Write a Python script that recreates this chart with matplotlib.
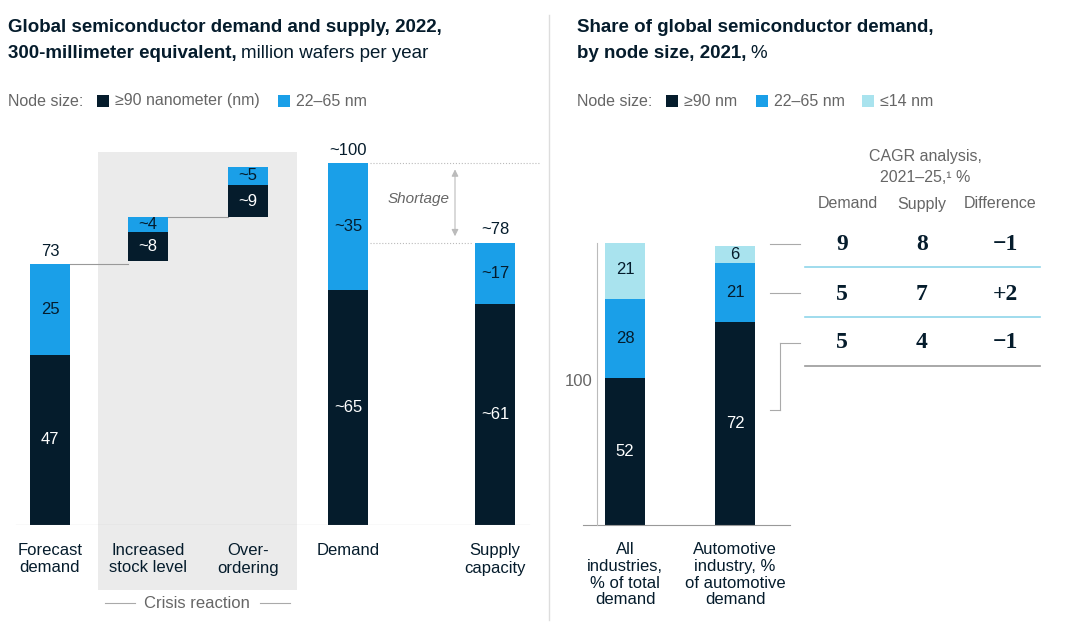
import matplotlib.pyplot as plt
from matplotlib.patches import Rectangle

plt.rcParams['font.family'] = ['Liberation Sans', 'DejaVu Sans']

NAVY = '#051c2c'
BLUE = '#1a9fe8'
CYAN = '#a9e3ee'
GRAY = '#666666'

# ---- data ----
wf_cats = ['Forecast\ndemand', 'Increased\nstock level', 'Over-\nordering', 'Demand', 'Supply\ncapacity']
wf_base = [0, 73, 85, 0, 0]
wf_dark = [47, 8, 9, 65, 61]
wf_blue = [25, 4, 5, 35, 17]
wf_dark_lbl = ['47', '~8', '~9', '~65', '~61']
wf_blue_lbl = ['25', '~4', '~5', '~35', '~17']
wf_top_lbl = ['73', '', '', '~100', '~78']

sh_cats = ['All\nindustries,\n% of total\ndemand', 'Automotive\nindustry, %\nof automotive\ndemand']
sh_ge90 = [52, 72]
sh_22_65 = [28, 21]
sh_le14 = [21, 6]

cagr_demand = ['9', '5', '5']
cagr_supply = ['8', '7', '4']
cagr_diff = ['\u22121', '+2', '\u22121']

W, H = 1080, 632
fig = plt.figure(figsize=(10.8, 6.32), dpi=100)

def fr(x0, y0, x1, y1):
    return [x0 / W, 1 - y1 / H, (x1 - x0) / W, (y1 - y0) / H]

# overlay axes in pixel coords for text/decoration
ov = fig.add_axes([0, 0, 1, 1], zorder=3)
ov.set_xlim(0, W); ov.set_ylim(H, 0); ov.axis('off')
ov.patch.set_alpha(0)

bg = fig.add_axes([0, 0, 1, 1], zorder=0)
bg.set_xlim(0, W); bg.set_ylim(H, 0); bg.axis('off')
bg.add_patch(Rectangle((98, 152), 199, 438, color='#ebebeb', lw=0))

# ---- left waterfall ----
axL = fig.add_axes(fr(0, 140, 540, 525), zorder=1)
axL.patch.set_alpha(0)
xs = [50, 148, 248, 348, 495]
axL.set_xlim(0, 540); axL.set_ylim(0, (525 - 140) / 3.62)
axL.axis('off')
axL.bar(xs, wf_dark, 40, bottom=wf_base, color=NAVY)
tops = [b + d for b, d in zip(wf_base, wf_dark)]
axL.bar(xs, wf_blue, 40, bottom=tops, color=BLUE)
axL.axhline(0, xmin=0.03, xmax=0.98, color='#999999', lw=0.8)
for x, b, d, u, dl, ul, tl in zip(xs, wf_base, wf_dark, wf_blue, wf_dark_lbl, wf_blue_lbl, wf_top_lbl):
    axL.text(x, b + d / 2, dl, color='white', ha='center', va='center', fontsize=12)
    axL.text(x, b + d + u / 2, ul, color=NAVY, ha='center', va='center', fontsize=12)
    if tl:
        axL.text(x, b + d + u + 1.5, tl, color=NAVY, ha='center', va='bottom', fontsize=12)
    axL.text(x, -5, wf_cats[xs.index(x)], ha='center', va='top', fontsize=12, color=NAVY, clip_on=False)
# connectors
t0 = wf_dark[0] + wf_blue[0]
axL.plot([70, 128], [t0, t0], color='#999999', lw=0.8)
t1 = wf_base[1] + wf_dark[1] + wf_blue[1]
axL.plot([168, 228], [t1, t1], color='#999999', lw=0.8)
dem = wf_dark[3] + wf_blue[3]
sup = wf_dark[4] + wf_blue[4]
axL.plot([370, 540], [dem, dem], color='#bbbbbb', lw=0.8, ls=':')
axL.plot([370, 472], [sup, sup], color='#bbbbbb', lw=0.8, ls=':')
axL.annotate('', xy=(455, dem - 1), xytext=(455, sup + 1),
             arrowprops=dict(arrowstyle='<|-|>', color='#bbbbbb', lw=0.8))
axL.text(450, (dem + sup) / 2 + 1, 'Shortage', ha='right', va='center', fontsize=11,
         style='italic', color=GRAY)

ov.text(197, 603, 'Crisis reaction', ha='center', va='center', fontsize=12, color=GRAY)
ov.plot([105, 135], [603, 603], color='#aaaaaa', lw=0.8)
ov.plot([260, 290], [603, 603], color='#aaaaaa', lw=0.8)

# ---- right share chart ----
axR = fig.add_axes(fr(540, 243, 800, 525), zorder=1)
axR.patch.set_alpha(0)
rx = [625, 735]
axR.set_xlim(540, 800); axR.set_ylim(0, 100); axR.axis('off')
axR.bar(rx, sh_ge90, 40, color=NAVY)
axR.bar(rx, sh_22_65, 40, bottom=sh_ge90, color=BLUE)
b2 = [a + b for a, b in zip(sh_ge90, sh_22_65)]
axR.bar(rx, sh_le14, 40, bottom=b2, color=CYAN)
axR.plot([583, 790], [0, 0], color='#999999', lw=0.8, clip_on=False)
for i, x in enumerate(rx):
    axR.text(x, sh_ge90[i] / 2, str(sh_ge90[i]), color='white', ha='center', va='center', fontsize=12)
    axR.text(x, sh_ge90[i] + sh_22_65[i] / 2, str(sh_22_65[i]), color=NAVY, ha='center', va='center', fontsize=12)
    axR.text(x, b2[i] + sh_le14[i] / 2, str(sh_le14[i]), color=NAVY, ha='center', va='center', fontsize=12)
    axR.text(x, -6, sh_cats[i], ha='center', va='top', fontsize=12, color=NAVY, clip_on=False, linespacing=1.15)
axR.plot([597, 597], [0, 100], color='#bbbbbb', lw=0.8, clip_on=False)
ov.text(592, 381, '100', ha='right', va='center', fontsize=12, color=GRAY)

# bracket lines to table
lc = '#aaaaaa'
ov.plot([770, 800], [244, 244], color=lc, lw=0.8)
ov.plot([770, 800], [293, 293], color=lc, lw=0.8)
ov.plot([780, 800], [343, 343], color=lc, lw=0.8)
ov.plot([780, 780], [343, 410], color=lc, lw=0.8)
ov.plot([770, 780], [410, 410], color=lc, lw=0.8)

# CAGR table
ov.text(925, 157, 'CAGR analysis,', ha='center', va='center', fontsize=11.5, color=GRAY)
ov.text(925, 178, '2021\u201325,\u00b9 %', ha='center', va='center', fontsize=11.5, color=GRAY)
for x, h in zip([848, 922, 1000], ['Demand', 'Supply', 'Difference']):
    ov.text(x, 204, h, ha='center', va='center', fontsize=11.5, color=GRAY)
for r, y in enumerate([244, 294, 343]):
    for x, v in zip([842, 922, 1005], [cagr_demand[r], cagr_supply[r], cagr_diff[r]]):
        ov.text(x, y, v, ha='center', va='center', fontsize=17, fontweight='bold',
                family=['Liberation Serif', 'DejaVu Serif'], color=NAVY)
ov.plot([805, 1040], [267, 267], color='#8fd6ea', lw=1.2)
ov.plot([805, 1040], [317, 317], color='#8fd6ea', lw=1.2)
ov.plot([805, 1040], [366, 366], color='#999999', lw=1.2)

# divider
ov.plot([549, 549], [15, 620], color='#dddddd', lw=1)

# titles
fig.canvas.draw()
r = fig.canvas.get_renderer()

def mixed(x, y, bold, reg):
    t = ov.text(x, y, bold, fontsize=13.5, fontweight='bold', color=NAVY, va='center')
    if reg:
        bb = t.get_window_extent(renderer=r)
        ov.text(bb.x1 / W * W + 4, y, reg, fontsize=13.5, color=NAVY, va='center')

mixed(8, 28, 'Global semiconductor demand and supply, 2022,', '')
mixed(8, 53, '300-millimeter equivalent,', 'million wafers per year')
mixed(577, 28, 'Share of global semiconductor demand,', '')
mixed(577, 53, 'by node size, 2021,', '%')

def legend(x, y, items):
    t = ov.text(x, y, 'Node size:', fontsize=11.5, color=GRAY, va='center')
    bb = t.get_window_extent(renderer=r)
    cx = bb.x1 + 14
    for c, lab in items:
        ov.add_patch(Rectangle((cx, y - 6), 12, 12, color=c, lw=0))
        tt = ov.text(cx + 18, y, lab, fontsize=11.5, color=GRAY, va='center')
        cx = tt.get_window_extent(renderer=r).x1 + 18

legend(8, 101, [(NAVY, '\u226590 nanometer (nm)'), (BLUE, '22\u201365 nm')])
legend(577, 101, [(NAVY, '\u226590 nm'), (BLUE, '22\u201365 nm'), (CYAN, '\u226414 nm')])

fig.savefig('out.png', dpi=100)
